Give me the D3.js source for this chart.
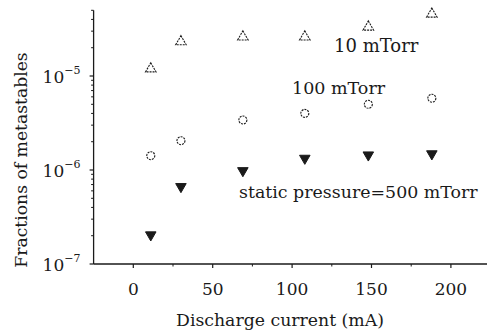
<!DOCTYPE html>
<html><head><meta charset="utf-8">
<script src="https://cdn.jsdelivr.net/npm/d3@7"></script>
<style>
html,body{margin:0;padding:0;background:#fff;}
</style></head>
<body>
<svg id="chart" width="487" height="335"></svg>
<script>
// Data
const current = [11, 30, 69, 108, 148, 188];
const p10 = [1.22e-5, 2.37e-5, 2.67e-5, 2.67e-5, 3.4e-5, 4.67e-5];
const p100 = [1.42e-6, 2.05e-6, 3.4e-6, 4.0e-6, 5.0e-6, 5.8e-6];
const p500 = [1.99e-7, 6.5e-7, 9.6e-7, 1.3e-6, 1.41e-6, 1.45e-6];
const xTicks = [0, 50, 100, 150, 200];
const xMinor = [25, 75, 125, 175];
const yTickExp = [-7, -6, -5];
const labels = ["10 mTorr", "100 mTorr", "static pressure=500 mTorr"];

const FONT = "'DejaVu Serif', serif";
const svg = d3.select("#chart");
const x = d3.scaleLinear().domain([-25, 225]).range([93.6, 490.6]);
const y = d3.scaleLog().domain([1e-7, 5e-5]).range([264, 10.3]);

const ink = "#1a1a1a";

// Axes
const xAxis = svg.append("g").attr("transform", "translate(0,264)");
xAxis.append("line").attr("x1", x(-25)).attr("x2", 487).attr("y1", 0).attr("y2", 0)
  .attr("stroke", ink).attr("stroke-width", 1.3);
xAxis.selectAll(".xt").data(xTicks).join("line")
  .attr("x1", d => x(d)).attr("x2", d => x(d)).attr("y1", 0).attr("y2", 4)
  .attr("stroke", ink).attr("stroke-width", 1.2);
xAxis.selectAll(".xm").data(xMinor).join("line")
  .attr("x1", d => x(d)).attr("x2", d => x(d)).attr("y1", 0).attr("y2", 2.5)
  .attr("stroke", ink).attr("stroke-width", 1);
xAxis.selectAll(".xl").data(xTicks).join("text")
  .attr("x", d => x(d)).attr("y", 31).attr("text-anchor", "middle")
  .style("font-family", FONT).attr("font-size", 17).attr("fill", ink).text(d => d);

const yAxis = svg.append("g").attr("transform", "translate(93.6,0)");
yAxis.append("line").attr("x1", 0).attr("x2", 0).attr("y1", y(5e-5)).attr("y2", 264)
  .attr("stroke", ink).attr("stroke-width", 1.3);
const minorY = [];
for (let e = -7; e <= -5; e++) for (let m = 2; m <= 9; m++) { const v = m * Math.pow(10, e); if (v <= 5e-5) minorY.push(v); }
yAxis.selectAll(".ym").data(minorY).join("line")
  .attr("x1", -2.5).attr("x2", 0).attr("y1", d => y(d)).attr("y2", d => y(d))
  .attr("stroke", ink).attr("stroke-width", 1);
yAxis.selectAll(".yt").data(yTickExp).join("line")
  .attr("x1", -4).attr("x2", 0).attr("y1", d => y(Math.pow(10, d))).attr("y2", d => y(Math.pow(10, d)))
  .attr("stroke", ink).attr("stroke-width", 1.2);
const yl = yAxis.selectAll(".yl").data(yTickExp).join("text")
  .attr("x", -51).attr("y", d => y(Math.pow(10, d)) + 7)
  .style("font-family", FONT).attr("font-size", 17).attr("fill", ink);
yl.append("tspan").text("10");
yl.append("tspan").attr("dy", -9).attr("font-size", 11).text(d => "\u2212" + (-d));

// Axis titles
svg.append("text").attr("x", 280).attr("y", 326).attr("text-anchor", "middle")
  .style("font-family", FONT).attr("font-size", 17.3).attr("fill", ink).text("Discharge current (mA)");
svg.append("text").attr("transform", "translate(27,160) rotate(-90)").attr("text-anchor", "middle")
  .style("font-family", FONT).attr("font-size", 17.2).attr("fill", ink).text("Fractions of metastables");

// Markers
const up = d3.symbol().type(d3.symbolTriangle).size(48);
svg.append("g").selectAll("path").data(current.map((c, i) => [c, p10[i]])).join("path")
  .attr("d", up).attr("transform", d => `translate(${x(d[0])},${y(d[1]) + 1})`)
  .attr("fill", "none").attr("stroke", ink).attr("stroke-width", 1.1).attr("stroke-dasharray", "2,1");
svg.append("g").selectAll("circle").data(current.map((c, i) => [c, p100[i]])).join("circle")
  .attr("cx", d => x(d[0])).attr("cy", d => y(d[1])).attr("r", 4)
  .attr("fill", "none").attr("stroke", ink).attr("stroke-width", 1.1).attr("stroke-dasharray", "2,1");
svg.append("g").selectAll("path").data(current.map((c, i) => [c, p500[i]])).join("path")
  .attr("d", up).attr("transform", d => `translate(${x(d[0])},${y(d[1]) - 1}) rotate(180)`)
  .attr("fill", ink).attr("stroke", ink).attr("stroke-width", 1);

// Annotations
svg.append("text").attr("x", 334).attr("y", 52).style("font-family", FONT).attr("font-size", 18).attr("fill", ink).text(labels[0]);
svg.append("text").attr("x", 292).attr("y", 94).style("font-family", FONT).attr("font-size", 17.5).attr("fill", ink).text(labels[1]);
svg.append("text").attr("x", 239).attr("y", 198).style("font-family", FONT).attr("font-size", 17.4).attr("fill", ink).text(labels[2]);
</script>
</body></html>
